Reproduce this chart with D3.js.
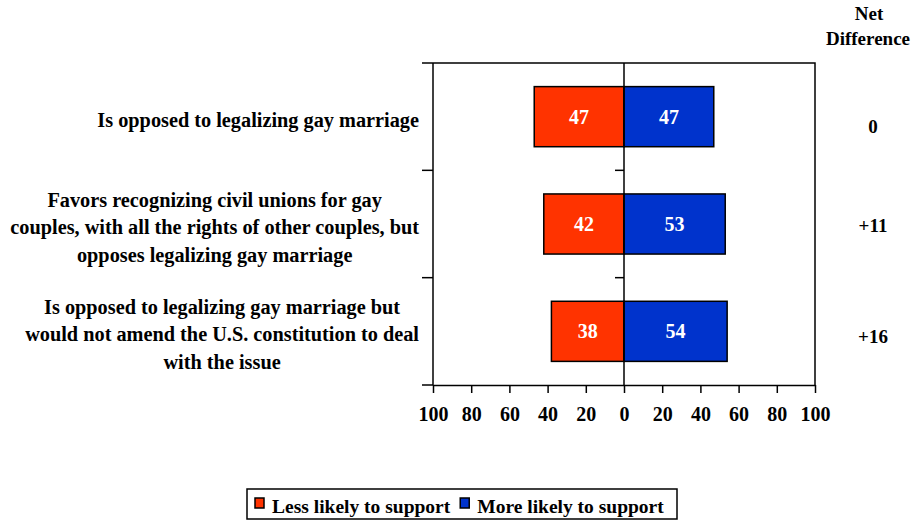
<!DOCTYPE html>
<html>
<head>
<meta charset="utf-8">
<script src="https://cdn.jsdelivr.net/npm/d3@7"></script>
<style>
  html, body { margin: 0; padding: 0; background: #fff; }
  svg { display: block; }
  text { font-family: "Liberation Serif", "Times New Roman", serif; font-weight: bold; fill: #000; }
</style>
</head>
<body>
<svg id="chart" width="914" height="521"></svg>
<script>
// Statements (each split into display lines)
const categories = [
  ["Is opposed to legalizing gay marriage"],
  ["Favors recognizing civil unions for gay", "couples, with all the rights of other couples, but", "opposes legalizing gay marriage"],
  ["Is opposed to legalizing gay marriage but", "would not amend the U.S. constitution to deal", "with the issue"]
];
const lessLikely = [47, 42, 38];
const moreLikely = [47, 53, 54];
const netDifference = ["0", "+11", "+16"];
const tickValues = [-100, -80, -60, -40, -20, 0, 20, 40, 60, 80, 100];
const seriesNames = ["Less likely to support", "More likely to support"];
const colors = ["#FF3300", "#0033CC"];

const svg = d3.select("#chart");
const plotL = 433, plotR = 815, plotT = 63, plotB = 385;

const x = d3.scaleLinear().domain([-100, 100]).range([plotL, plotR]);
const y = d3.scaleBand().domain(d3.range(categories.length)).range([plotT, plotB]).paddingInner(0.44).paddingOuter(0.22);
const band = d3.scaleBand().domain(d3.range(categories.length)).range([plotT, plotB]);

const g = svg.append("g");

// Frame: top and right edges
g.append("path")
  .attr("d", `M${plotL},${plotT}H${plotR}V${plotB}`)
  .attr("fill", "none").attr("stroke", "#000").attr("stroke-width", 1.5);

// Bottom axis
const xAxis = d3.axisBottom(x).tickValues(tickValues).tickFormat(d => Math.abs(d)).tickSize(10).tickSizeOuter(0);
const ax = g.append("g").attr("transform", `translate(0,${plotB})`).call(xAxis);
ax.select(".domain").attr("stroke-width", 1.5);
ax.selectAll(".tick line").attr("stroke-width", 1.5).attr("y2", 8);
ax.selectAll(".tick text")
  .attr("y", 36).attr("dy", null)
  .style("font-family", "'Liberation Serif', 'Times New Roman', serif")
  .style("font-weight", "bold").style("font-size", "20px").attr("fill", "#000");

// Left axis with category boundaries
const bounds = [plotT, ...d3.range(categories.length).map(i => band(i) + band.bandwidth())];
g.append("line").attr("x1", plotL).attr("x2", plotL).attr("y1", plotT).attr("y2", plotB)
  .attr("stroke", "#000").attr("stroke-width", 1.5);
g.selectAll(".ltick").data(bounds).join("line")
  .attr("x1", plotL - 11).attr("x2", plotL).attr("y1", d => d).attr("y2", d => d)
  .attr("stroke", "#000").attr("stroke-width", 1.5);

// Bars
const rows = g.selectAll(".row").data(categories.map((c, i) => i)).join("g");
rows.append("rect")
  .attr("x", i => x(-lessLikely[i])).attr("y", i => y(i))
  .attr("width", i => x(0) - x(-lessLikely[i])).attr("height", y.bandwidth())
  .attr("fill", colors[0]).attr("stroke", "#000").attr("stroke-width", 1.5);
rows.append("rect")
  .attr("x", x(0)).attr("y", i => y(i))
  .attr("width", i => x(moreLikely[i]) - x(0)).attr("height", y.bandwidth())
  .attr("fill", colors[1]).attr("stroke", "#000").attr("stroke-width", 1.5);

// Zero line with inner ticks
g.append("line").attr("x1", x(0)).attr("x2", x(0)).attr("y1", plotT).attr("y2", plotB)
  .attr("stroke", "#000").attr("stroke-width", 1.5);
g.selectAll(".ztick").data(bounds.slice(1, -1)).join("line")
  .attr("x1", x(0) - 9).attr("x2", x(0)).attr("y1", d => d).attr("y2", d => d)
  .attr("stroke", "#000").attr("stroke-width", 1.5);

// Value labels
rows.append("text")
  .attr("x", i => (x(-lessLikely[i]) + x(0)) / 2).attr("y", i => y(i) + y.bandwidth() / 2 + 7)
  .attr("text-anchor", "middle").style("font-size", "20px").style("fill", "#fff")
  .text(i => lessLikely[i]);
rows.append("text")
  .attr("x", i => (x(moreLikely[i]) + x(0)) / 2).attr("y", i => y(i) + y.bandwidth() / 2 + 7)
  .attr("text-anchor", "middle").style("font-size", "20px").style("fill", "#fff")
  .text(i => moreLikely[i]);

// Category labels: centered block, right edge aligned
const lineH = 27.5;
categories.forEach((lines, i) => {
  const cy = band(i) + band.bandwidth() / 2;
  const t = g.append("text").style("font-size", "20.3px").attr("text-anchor", "middle");
  const spans = lines.map((l, k) => t.append("tspan").text(l));
  const maxW = d3.max(spans, s => s.node().getComputedTextLength());
  const cx = 419 - maxW / 2;
  spans.forEach((s, k) => {
    s.attr("x", cx).attr("y", cy + 10 + (k - (lines.length - 1) / 2) * lineH);
  });
});

// Net difference column
g.append("text").attr("x", 869).attr("y", 20).attr("text-anchor", "middle").style("font-size", "19px").text("Net");
g.append("text").attr("x", 868).attr("y", 45).attr("text-anchor", "middle").style("font-size", "19px").text("Difference");
g.selectAll(".net").data(netDifference).join("text")
  .attr("x", 873).attr("y", (d, i) => band(i) + band.bandwidth() / 2 + (i === 0 ? 16 : i === 1 ? 8 : 12))
  .attr("text-anchor", "middle").style("font-size", "19px").text(d => d);

// Legend
const lg = svg.append("g");
lg.append("rect").attr("x", 247).attr("y", 489).attr("width", 430).attr("height", 30)
  .attr("fill", "#fff").attr("stroke", "#000").attr("stroke-width", 1.5);
let lx = 255;
seriesNames.forEach((name, i) => {
  lg.append("rect").attr("x", lx).attr("y", 498).attr("width", 9).attr("height", 10)
    .attr("fill", colors[i]).attr("stroke", "#000").attr("stroke-width", 1.5);
  const t = lg.append("text").attr("x", lx + 17).attr("y", 513).style("font-size", "19.5px").text(name);
  lx += 17 + t.node().getComputedTextLength() + 10;
});
</script>
</body>
</html>
